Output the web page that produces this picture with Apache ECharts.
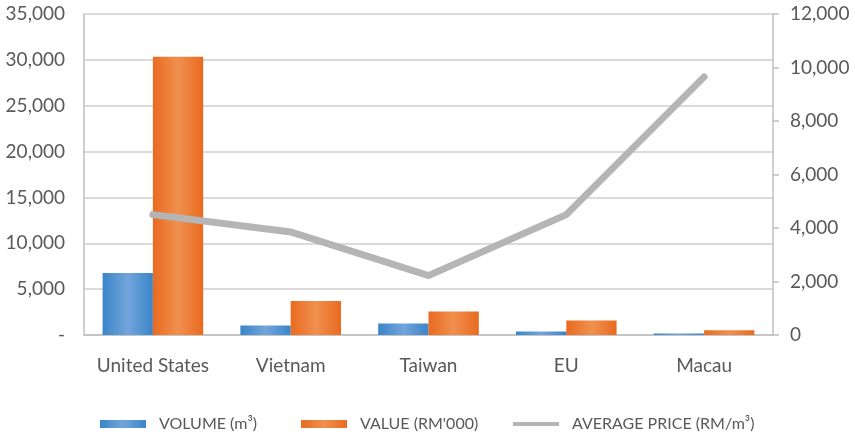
<!DOCTYPE html>
<html>
<head>
<meta charset="utf-8">
<script src="https://cdn.jsdelivr.net/npm/echarts@6/dist/echarts.min.js"></script>
<style>
  html, body { margin: 0; padding: 0; background: #fff; }
  #chart { width: 855px; height: 437px; }
</style>
</head>
<body>
<div id="chart"></div>
<script>
// Export markets: volume, value and average price
const categories = ['United States', 'Vietnam', 'Taiwan', 'EU', 'Macau'];
const volume = [6750, 1040, 1260, 380, 160];           // m³
const value = [30350, 3720, 2560, 1580, 520];          // RM'000
const avgPrice = [4500, 3850, 2220, 4500, 9650];       // RM/m³

const seriesNames = ['VOLUME (m³)', "VALUE (RM'000)", 'AVERAGE PRICE (RM/m³)'];

const textColor = '#595959';
const fontFamily = 'Lato, "Open Sans", sans-serif';

function barGradient(edge, mid) {
  return new echarts.graphic.LinearGradient(0, 0, 1, 0, [
    { offset: 0, color: edge },
    { offset: 0.5, color: mid },
    { offset: 1, color: edge }
  ]);
}

function legendItem(name, left, icon, h) {
  return {
    data: [{ name: name, icon: icon }],
    left: left, top: 416, padding: 0, itemWidth: 46, itemHeight: h, itemGap: 0,
    textStyle: { fontSize: 16, color: textColor, fontFamily: fontFamily, padding: [0, 0, 0, 8] }
  };
}

const chart = echarts.init(document.getElementById('chart'), null, { renderer: 'canvas' });

chart.setOption({
  animation: false,
  backgroundColor: '#ffffff',
  textStyle: { fontFamily: fontFamily, color: textColor },
  grid: { left: 84, right: 82, top: 14, bottom: 102, containLabel: false },
  legend: [
    legendItem(seriesNames[0], 100, 'rect', 8),
    legendItem(seriesNames[1], 301, 'rect', 8),
    legendItem(seriesNames[2], 513, 'rect', 4)
  ],
  xAxis: {
    type: 'category',
    data: categories,
    axisLine: { lineStyle: { color: '#bfbfbf', width: 1.5 } },
    axisTick: { show: false },
    axisLabel: { interval: 0, fontSize: 19, color: textColor, margin: 21, fontFamily: fontFamily }
  },
  yAxis: [
    {
      type: 'value', min: 0, max: 35000, interval: 5000,
      axisLine: { show: true, lineStyle: { color: '#bfbfbf', width: 1.5 } },
      axisTick: { show: false },
      splitLine: { lineStyle: { color: '#cfcfcf', width: 1.5 } },
      axisLabel: {
        fontSize: 19, color: textColor, margin: 19, fontFamily: fontFamily,
        formatter: v => v === 0 ? '-' : v.toLocaleString('en-US')
      }
    },
    {
      type: 'value', min: 0, max: 12000, interval: 2000,
      axisLine: { show: true, lineStyle: { color: '#bfbfbf', width: 1.5 } },
      axisTick: { show: true, length: 6, lineStyle: { color: '#bfbfbf', width: 1.5 } },
      splitLine: { show: false },
      axisLabel: {
        fontSize: 19, color: textColor, margin: 17, fontFamily: fontFamily,
        formatter: v => v.toLocaleString('en-US')
      }
    }
  ],
  series: [
    {
      name: seriesNames[0], type: 'bar', data: volume, yAxisIndex: 0,
      barGap: '0%', barCategoryGap: '27%',
      itemStyle: { color: barGradient('#3a85c9', '#72a5da') }
    },
    {
      name: seriesNames[1], type: 'bar', data: value, yAxisIndex: 0,
      barGap: '0%', barCategoryGap: '27%',
      itemStyle: { color: barGradient('#e96a1f', '#f0904f') }
    },
    {
      name: seriesNames[2], type: 'line', data: avgPrice, yAxisIndex: 1,
      symbol: 'none', z: 5,
      lineStyle: { color: '#b5b5b5', width: 7, cap: 'round', join: 'miter' },
      itemStyle: { color: '#b5b5b5' }
    }
  ]
});
</script>
</body>
</html>
